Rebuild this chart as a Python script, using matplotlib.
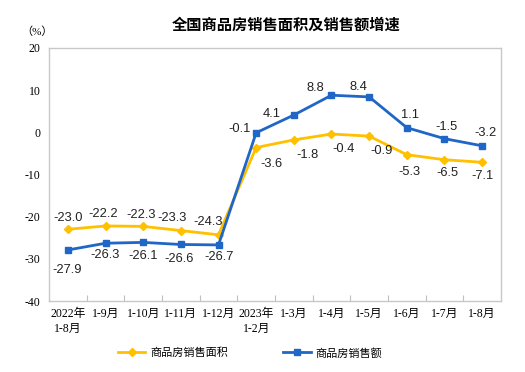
import matplotlib.pyplot as plt

months = ["2022年\n1-8月", "1-9月", "1-10月", "1-11月", "1-12月", "2023年\n1-2月",
          "1-3月", "1-4月", "1-5月", "1-6月", "1-7月", "1-8月"]
area = [-23.0, -22.2, -22.3, -23.3, -24.3, -3.6, -1.8, -0.4, -0.9, -5.3, -6.5, -7.1]
sales = [-27.9, -26.3, -26.1, -26.6, -26.7, -0.1, 4.1, 8.8, 8.4, 1.1, -1.5, -3.2]

# label offsets in pixels (dx, dy)
area_off = [(0, 11), (-2, 12), (-2, 11), (-9, 13), (-10, 13), (15, -16), (14, -15),
            (12, -15), (12, -15), (3, -17), (3, -13), (0, -14)]
sales_off = [(-1, -20), (0, -12), (0, -14), (-2, -15), (1, -12), (-17, 4), (-22, 1),
             (-16, 7), (-11, 10), (3, 13), (2, 12), (3, 13)]

yellow = "#FFC000"
blue = "#1F66C7"
cjk = ["Liberation Serif", "Noto Sans CJK SC"]

fig = plt.figure(figsize=(5.25, 3.72), dpi=100)
ax = fig.add_axes([49/525, 1-301/372, 452/525, 253/372])

x = list(range(len(months)))
ax.plot(x, area, color=yellow, lw=2, marker="D", ms=4.5, label="商品房销售面积")
ax.plot(x, sales, color=blue, lw=2, marker="s", ms=4.5, label="商品房销售额")

for i in x:
    ax.annotate(f"{area[i]:.1f}", (i, area[i]), xytext=area_off[i], textcoords="offset pixels",
                ha="center", va="center", fontsize=9.3, family="Liberation Sans", color="#222222")
    ax.annotate(f"{sales[i]:.1f}", (i, sales[i]), xytext=sales_off[i], textcoords="offset pixels",
                ha="center", va="center", fontsize=9.3, family="Liberation Sans", color="#222222")

ax.set_xlim(-0.5, 11.5)
ax.set_ylim(-40, 20)
ax.set_yticks(range(-40, 21, 10))
ax.set_yticklabels([str(v) for v in range(-40, 21, 10)], family="Liberation Serif", fontsize=8.5)
ax.set_xticks([i - 0.5 for i in x[1:]], minor=False)
ax.set_xticklabels([])
ax.set_xticks(x, minor=True)
ax.set_xticklabels(months, minor=True, family=cjk, fontsize=8.5, linespacing=1.3)
ax.tick_params(axis="x", which="major", direction="in", length=4, color="#bfbfbf")
ax.tick_params(axis="x", which="minor", length=0, pad=5)
ax.tick_params(axis="y", length=0, pad=6)
for s in ax.spines.values():
    s.set_color("#c8c8c8")
    s.set_linewidth(1)

fig.text(286/525, 1-25/372, "全国商品房销售面积及销售额增速", ha="center", va="center",
         fontsize=11, family="Noto Sans CJK SC", fontweight="bold")
fig.text(37/525, 1-32/372, "（%）", ha="center", va="center", fontsize=8, family=cjk)

leg = fig.legend(loc="center", bbox_to_anchor=(250/525, 1-353/372), ncol=2, frameon=False,
                 prop={"family": "Noto Sans CJK SC", "size": 8}, handlelength=2.5,
                 columnspacing=5, handletextpad=0.4)

fig.savefig("out.png", dpi=100)
